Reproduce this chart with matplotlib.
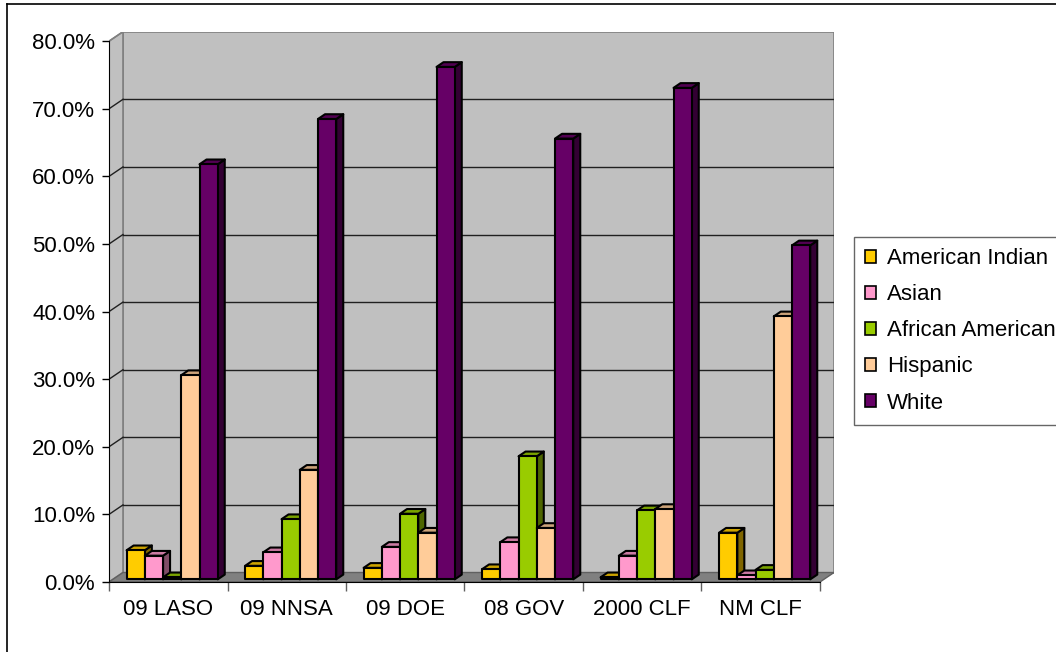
import matplotlib
matplotlib.use('Agg')
import matplotlib.pyplot as plt
from matplotlib.patches import Polygon, Rectangle, Patch
from matplotlib.lines import Line2D
from matplotlib.colors import to_rgb

plt.rcParams['font.family'] = ['Liberation Sans', 'DejaVu Sans']

categories = ['09 LASO', '09 NNSA', '09 DOE', '08 GOV', '2000 CLF', 'NM CLF']
series_names = ['American Indian', 'Asian', 'African American', 'Hispanic', 'White']
american_indian = [4.3, 2.0, 1.7, 1.5, 0.3, 6.9]
asian = [3.5, 4.0, 4.8, 5.5, 3.5, 0.6]
african_american = [0.3, 8.9, 9.7, 18.2, 10.2, 1.4]
hispanic = [30.2, 16.2, 6.9, 7.6, 10.4, 38.9]
white = [61.4, 68.1, 75.8, 65.2, 72.7, 49.4]
series_values = [american_indian, asian, african_american, hispanic, white]
colors = ['#FFCC00', '#FF99CC', '#99CC00', '#FFCC99', '#660066']

# oblique 3d offset of the wall (data units)
DX = 14 / 118.5
DY = 9.5 / 6.76
f0 = 0.28      # depth where bar front sits
dep = 0.5      # bar depth fraction
bw = 1 / 6.5   # bar width (gap width 150%)
ymax = 80

fig = plt.figure(figsize=(10.56, 6.52), dpi=100)
ax = fig.add_axes([109 / 1056, (652 - 582) / 652, 725 / 1056, 550.3 / 652])
ax.set_xlim(0, len(categories) + DX)
ax.set_ylim(0, ymax + DY)
ax.patch.set_visible(False)

n = len(categories)
wall = '#C0C0C0'
edge = '#808080'
ax.add_patch(Rectangle((DX, DY), n, ymax, facecolor=wall, edgecolor=edge, lw=1.2, zorder=0))
ax.add_patch(Polygon([(0, 0), (DX, DY), (DX, ymax + DY), (0, ymax)], closed=True,
                     facecolor=wall, edgecolor=edge, lw=1.2, zorder=0))
ax.add_patch(Polygon([(0, 0), (n, 0), (n + DX, DY), (DX, DY)], closed=True,
                     facecolor='#808080', edgecolor='#606060', lw=1, zorder=1))
for v in range(10, ymax, 10):
    ax.plot([DX, n + DX], [v + DY, v + DY], color='#202020', lw=1, zorder=0.5)
    ax.plot([0, DX], [v, v + DY], color='#202020', lw=1, zorder=0.5)
ax.plot([0, DX], [ymax, ymax + DY], color=edge, lw=1, zorder=0.5)


def shade(c, k):
    r, g, b = to_rgb(c)
    return (r * k, g * k, b * k)


for ci in range(n):
    for si, vals in enumerate(series_values):
        v = vals[ci]
        x0 = ci + 0.75 * bw + si * bw + f0 * DX
        y0 = f0 * DY
        ddx, ddy = dep * DX, dep * DY
        z = 2 + ci * 10 + si
        col = colors[si]
        ax.add_patch(Polygon([(x0 + bw, y0), (x0 + bw + ddx, y0 + ddy),
                              (x0 + bw + ddx, y0 + v + ddy), (x0 + bw, y0 + v)],
                             closed=True, facecolor=shade(col, 0.5), edgecolor='black',
                             lw=1.5, joinstyle='round', zorder=z))
        ax.add_patch(Polygon([(x0, y0 + v), (x0 + bw, y0 + v),
                              (x0 + bw + ddx, y0 + v + ddy), (x0 + ddx, y0 + v + ddy)],
                             closed=True, facecolor=shade(col, 0.8), edgecolor='black',
                             lw=1.5, joinstyle='round', zorder=z))
        ax.add_patch(Rectangle((x0, y0), bw, v, facecolor=col, edgecolor='black',
                               lw=1.5, joinstyle='round', zorder=z))

for s in ['top', 'right']:
    ax.spines[s].set_visible(False)
ax.spines['left'].set_bounds(0, ymax)
ax.spines['bottom'].set_bounds(0, n)
ax.spines['left'].set_zorder(200)
ax.spines['bottom'].set_zorder(200)

ax.set_yticks(range(0, ymax + 1, 10))
ax.set_yticklabels(['{:.1f}%'.format(v) for v in range(0, ymax + 1, 10)], fontsize=16)
ax.tick_params(axis='y', length=5, width=1, pad=5)
ax.set_xticks(range(n + 1))
ax.set_xticklabels([])
ax.tick_params(axis='x', which='major', length=6.5, width=1, color='#606060')
ax.set_xticks([c + 0.5 for c in range(n)], minor=True)
ax.set_xticklabels(categories, minor=True, fontsize=16)
ax.tick_params(axis='x', which='minor', length=0, pad=12)

handles = [Patch(facecolor=c, edgecolor='black', lw=1.2) for c in colors]
fig.legend(handles, series_names, loc='upper left', bbox_to_anchor=(854 / 1056, 1 - 237 / 652),
           fontsize=16, frameon=True, fancybox=False, edgecolor='#404040',
           handlelength=0.5, handleheight=0.5, handletextpad=0.5,
           labelspacing=0.68, borderpad=0.5, borderaxespad=0)

fig.add_artist(Line2D([7 / 1056, 1], [1 - 4 / 652, 1 - 4 / 652], color='black', lw=1.2))
fig.add_artist(Line2D([7 / 1056, 7 / 1056], [0, 1 - 4 / 652], color='black', lw=1.2))

fig.savefig('out.png', dpi=100)
